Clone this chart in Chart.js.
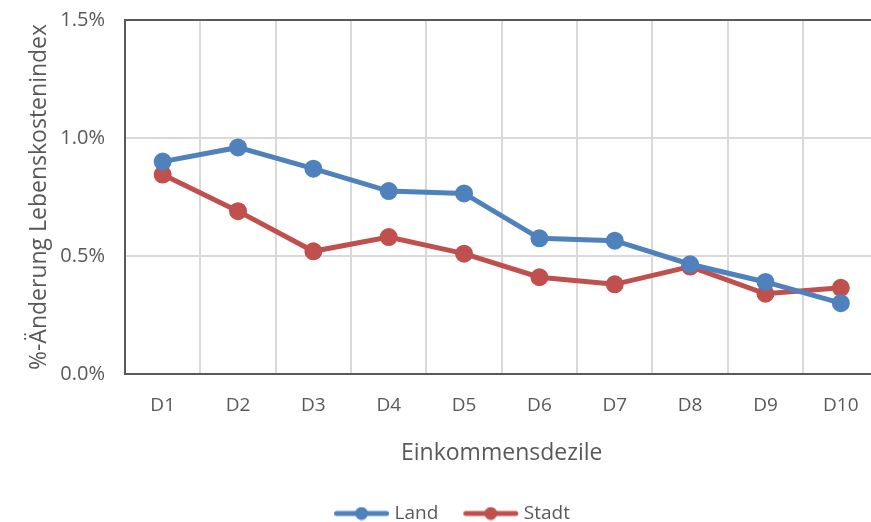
<!DOCTYPE html>
<html>
<head>
<meta charset="utf-8">
<script src="https://cdn.jsdelivr.net/npm/chart.js@4.4.0/dist/chart.umd.min.js"></script>
<style>
  html, body { margin: 0; padding: 0; background: #fff; overflow: hidden; }
  #wrap { width: 890px; height: 522px; }
</style>
</head>
<body>
<div id="wrap"><canvas id="lineChart"></canvas></div>
<script>
const dezile = ['D1', 'D2', 'D3', 'D4', 'D5', 'D6', 'D7', 'D8', 'D9', 'D10'];
const land = [0.90, 0.96, 0.87, 0.775, 0.765, 0.575, 0.565, 0.465, 0.39, 0.30];
const stadt = [0.845, 0.69, 0.52, 0.58, 0.51, 0.41, 0.38, 0.455, 0.34, 0.365];
const yTicks = [0, 0.5, 1.0, 1.5];

const blue = '#4f81bd';
const red = '#c0504d';
const grey = '#595959';

// legend symbol: line with a dot, like the Excel legend
// drawn at the right side of the image so the gap to the text stays small
function legendIcon(color) {
    let c = document.createElement('canvas');
    c.width = 80; c.height = 14;
    let g = c.getContext('2d');
    g.strokeStyle = color;
    g.lineWidth = 5;
    g.lineCap = 'round';
    g.beginPath(); g.moveTo(26.5, 7); g.lineTo(76.5, 7); g.stroke();
    g.fillStyle = color;
    g.beginPath(); g.arc(51.5, 7, 6.5, 0, Math.PI * 2); g.fill();
    return c;
}

const ctx = document.getElementById('lineChart');
const myChart = new Chart(ctx, {
    type: 'line',
    data: {
        labels: dezile,
        datasets: [{
            label: 'Land',
            data: land,
            borderColor: blue,
            backgroundColor: blue,
            borderWidth: 5,
            pointRadius: 6.5,
            pointHoverRadius: 6.5,
            pointStyle: 'circle',
            tension: 0
        }, {
            label: 'Stadt',
            data: stadt,
            borderColor: red,
            backgroundColor: red,
            borderWidth: 5,
            pointRadius: 6.5,
            pointHoverRadius: 6.5,
            pointStyle: 'circle',
            tension: 0
        }]
    },
    options: {
        responsive: true,
        maintainAspectRatio: false,
        animation: false,
        layout: { padding: { left: 0, right: 5, top: 20, bottom: -11 } },
        scales: {
            x: {
                offset: true,
                grid: { offset: true, color: '#d9d9d9', lineWidth: 2, drawTicks: false },
                border: { color: grey, width: 2 },
                ticks: { color: grey, padding: 20, font: { family: 'Open Sans', size: 19 } },
                title: {
                    display: true, text: 'Einkommensdezile', color: grey,
                    font: { family: 'Open Sans', size: 23 }, padding: { top: 18, bottom: 31 }
                },
                afterFit: function(scale) { scale.height = 124; }
            },
            y: {
                min: 0, max: 1.5,
                afterBuildTicks: function(scale) { scale.ticks = yTicks.map(v => ({ value: v })); },
                grid: {
                    color: c => c.tick && c.tick.value === 1.5 ? grey : '#d9d9d9',
                    lineWidth: 2, drawTicks: false
                },
                border: { color: grey, width: 2 },
                ticks: {
                    color: grey, padding: 20, font: { family: 'Open Sans', size: 20 },
                    callback: v => v.toFixed(1) + '%'
                },
                title: {
                    display: true, text: '%-Änderung Lebenskostenindex', color: grey,
                    font: { family: 'Open Sans', size: 23 }, padding: { top: 26, bottom: 8 }
                },
                afterFit: function(scale) {
                    scale.width = 125;
                    scale.paddingTop = 0;
                    scale.paddingBottom = 0;
                }
            }
        },
        plugins: {
            legend: {
                position: 'bottom',
                labels: {
                    color: grey,
                    font: { family: 'Open Sans', size: 19 },
                    usePointStyle: true,
                    pointStyleWidth: 70,
                    padding: 6,
                    generateLabels: function(chart) {
                        return chart.data.datasets.map((ds, i) => ({
                            text: ds.label,
                            fontColor: grey,
                            pointStyle: legendIcon(ds.borderColor),
                            datasetIndex: i,
                            hidden: false,
                            lineWidth: 0
                        }));
                    }
                }
            },
            tooltip: { enabled: false }
        }
    }
});
</script>
</body>
</html>
